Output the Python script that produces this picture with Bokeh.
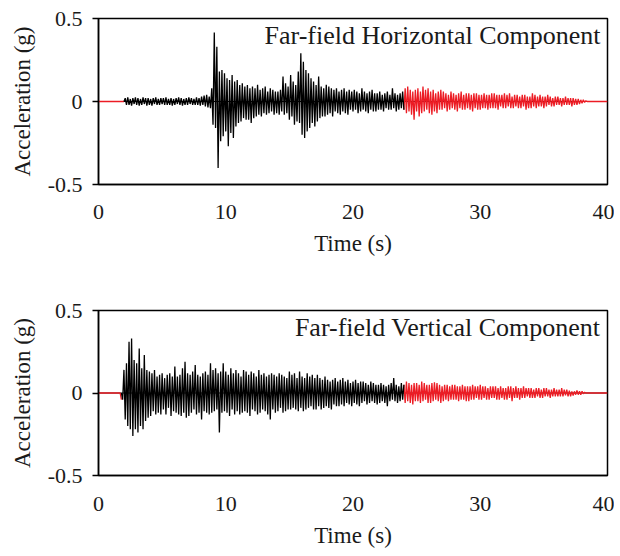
import numpy as np
from bokeh.plotting import figure
from bokeh.layouts import column
from bokeh.models import Span, Label, FixedTicker
from bokeh.embed import file_html
from bokeh.resources import INLINE

# ---------------- data ----------------
DT = 0.1  # sample step of the digitised records (s)

# Far-field horizontal component
h_pre_t = [0.0, 2.0]
h_pre_a = [0.0, 0.0]
h_black_start = 2.0
h_black = [
    0.00, 0.02, -0.02, 0.025, -0.02, 0.015, -0.025, 0.02, -0.015, 0.025,
    -0.02, 0.02, -0.025, 0.015, -0.02, 0.025, -0.015, 0.02, -0.025, 0.02,
    -0.02, 0.015, -0.025, 0.02, -0.015, 0.025, -0.02, 0.015, -0.02, 0.02,
    -0.015, 0.02, -0.02, 0.025, -0.02, 0.015, -0.02, 0.02, -0.025, 0.015,
    -0.02, 0.02, -0.015, 0.025, -0.02, 0.02, -0.025, 0.015, -0.02, 0.02,
    -0.02, 0.025, -0.015, 0.02, -0.02, 0.015, -0.02, 0.025, -0.02, 0.02,
    -0.025, 0.03, -0.02, 0.035, -0.03, 0.04, -0.035, 0.03, -0.04, 0.08,
    -0.14, 0.415, -0.16, 0.33, -0.40, 0.18, -0.24, 0.19, -0.21, 0.17,
    -0.18, 0.14, -0.27, 0.13, -0.19, 0.16, -0.22, 0.12, -0.15, 0.13,
    -0.13, 0.10, -0.12, 0.11, -0.10, 0.09, -0.11, 0.10, -0.11, 0.08,
    -0.13, 0.09, -0.10, 0.08, -0.09, 0.10, -0.08, 0.07, -0.09, 0.08,
    -0.07, 0.09, -0.08, 0.06, -0.07, 0.08, -0.06, 0.07, -0.08, 0.06,
    -0.07, 0.06, -0.08, 0.07, -0.06, 0.15, -0.08, 0.11, -0.07, 0.09,
    -0.11, 0.16, -0.09, 0.12, -0.14, 0.10, -0.12, 0.18, -0.13, 0.29,
    -0.20, 0.24, -0.22, 0.19, -0.18, 0.17, -0.16, 0.14, -0.13, 0.12,
    -0.15, 0.10, -0.12, 0.15, -0.10, 0.09, -0.09, 0.08, -0.09, 0.10,
    -0.08, 0.09, -0.07, 0.08, -0.09, 0.07, -0.06, 0.08, -0.07, 0.06,
    -0.08, 0.07, -0.06, 0.08, -0.07, 0.06, -0.08, 0.07, -0.05, 0.06,
    -0.06, 0.07, -0.05, 0.06, -0.07, 0.05, -0.06, 0.08, -0.05, 0.06,
    -0.06, 0.05, -0.07, 0.06, -0.05, 0.07, -0.06, 0.05, -0.06, 0.05,
    -0.05, 0.06, -0.05, 0.04, -0.06, 0.05, -0.04, 0.06, -0.05, 0.04,
    -0.05, 0.08, -0.04, 0.05, -0.06, 0.04, -0.05, 0.05, -0.04, 0.06,
    -0.05,
]
h_red_start = 24.0
h_red = [
    -0.05, 0.08, -0.07, 0.09, -0.06, 0.07, -0.08, 0.06, -0.11, 0.07,
    -0.06, 0.08, -0.09, 0.06, -0.07, 0.09, -0.06, 0.07, -0.05, 0.08,
    -0.07, 0.06, -0.08, 0.07, -0.06, 0.05, -0.07, 0.06, -0.05, 0.07,
    -0.05, 0.06, -0.04, 0.05, -0.06, 0.04, -0.05, 0.06, -0.04, 0.05,
    -0.05, 0.04, -0.06, 0.05, -0.04, 0.06, -0.05, 0.04, -0.05, 0.05,
    -0.04, 0.05, -0.05, 0.04, -0.06, 0.05, -0.04, 0.05, -0.05, 0.04,
    -0.05, 0.04, -0.04, 0.05, -0.04, 0.04, -0.05, 0.04, -0.04, 0.05,
    -0.04, 0.05, -0.04, 0.04, -0.05, 0.04, -0.03, 0.04, -0.04, 0.05,
    -0.04, 0.04, -0.03, 0.05, -0.04, 0.03, -0.04, 0.04, -0.03, 0.04,
    -0.04, 0.03, -0.04, 0.04, -0.03, 0.04, -0.05, 0.03, -0.04, 0.03,
    -0.04, 0.05, -0.03, 0.04, -0.04, 0.03, -0.03, 0.04, -0.03, 0.03,
    -0.04, 0.03, -0.03, 0.04, -0.02, 0.03, -0.03, 0.02, -0.03, 0.03,
    -0.02, 0.03, -0.02, 0.02, -0.03, 0.02, -0.02, 0.03, -0.02, 0.02,
    -0.02, 0.02, -0.03, 0.02, -0.02, 0.015, -0.02, 0.015, -0.015, 0.01,
    -0.01, 0.01, -0.005, 0.005, 0.0, 0.0, 0.0, 0.0, 0.0, 0.0,
    0.0, 0.0, 0.0, 0.0, 0.0, 0.0, 0.0, 0.0, 0.0, 0.0,
    0.0,
]

# Far-field vertical component
v_pre_t = [0.0, 1.7, 1.8]
v_pre_a = [0.0, 0.0, -0.04]
v_black_start = 1.8
v_black = [
    0.0, -0.04,
    0.14, -0.16, 0.18, -0.20, 0.31, -0.22, 0.33, -0.26, 0.20, -0.22,
    0.18, -0.24, 0.27, -0.20, 0.15, -0.22, 0.23, -0.17, 0.14, -0.15,
    0.13, -0.14, 0.12, -0.11, 0.14, -0.13, 0.10, -0.12, 0.11, -0.13,
    0.12, -0.10, 0.09, -0.13, 0.11, -0.09, 0.12, -0.14, 0.10, -0.11,
    0.16, -0.12, 0.10, -0.13, 0.11, -0.14, 0.15, -0.12, 0.19, -0.15,
    0.12, -0.14, 0.11, -0.12, 0.13, -0.10, 0.17, -0.13, 0.11, -0.12,
    0.10, -0.16, 0.12, -0.11, 0.13, -0.12, 0.11, -0.13, 0.18, -0.12,
    0.14, -0.11, 0.15, -0.10, 0.12, -0.24, 0.13, -0.12, 0.18, -0.11,
    0.13, -0.12, 0.11, -0.14, 0.15, -0.10, 0.12, -0.13, 0.14, -0.11,
    0.12, -0.13, 0.10, -0.12, 0.14, -0.11, 0.13, -0.12, 0.11, -0.14,
    0.13, -0.10, 0.12, -0.11, 0.10, -0.13, 0.14, -0.12, 0.11, -0.10,
    0.12, -0.11, 0.10, -0.13, 0.11, -0.16, 0.12, -0.10, 0.11, -0.12,
    0.10, -0.11, 0.12, -0.09, 0.11, -0.12, 0.10, -0.11, 0.09, -0.10,
    0.13, -0.10, 0.11, -0.09, 0.12, -0.10, 0.09, -0.11, 0.13, -0.09,
    0.10, -0.11, 0.09, -0.10, 0.12, -0.09, 0.10, -0.08, 0.11, -0.10,
    0.09, -0.10, 0.11, -0.08, 0.09, -0.10, 0.08, -0.09, 0.10, -0.08,
    0.08, -0.09, 0.07, -0.10, 0.08, -0.07, 0.09, -0.08, 0.07, -0.08,
    0.08, -0.07, 0.09, -0.08, 0.07, -0.06, 0.08, -0.07, 0.06, -0.08,
    0.07, -0.06, 0.08, -0.07, 0.06, -0.08, 0.07, -0.06, 0.07, -0.05,
    0.06, -0.07, 0.05, -0.06, 0.07, -0.05, 0.06, -0.06, 0.05, -0.07,
    0.05, -0.06, 0.06, -0.05, 0.05, -0.06, 0.04, -0.08, 0.05, -0.05,
    0.06, -0.04, 0.09, -0.05, 0.05, -0.06, 0.04, -0.05, 0.06, -0.04,
    0.05,
]
v_red_start = 24.0
v_red = [
    0.05, -0.06, 0.07, -0.05, 0.06, -0.06, 0.05, -0.07, 0.06, -0.05,
    0.06, -0.05, 0.05, -0.06, 0.07, -0.05, 0.06, -0.04, 0.05, -0.06,
    0.05, -0.06, 0.06, -0.05, 0.065, -0.04, 0.06, -0.05, 0.05, -0.06,
    0.04, -0.05, 0.05, -0.04, 0.05, -0.05, 0.04, -0.04, 0.05, -0.04,
    0.05, -0.04, 0.04, -0.05, 0.04, -0.04, 0.05, -0.04, 0.04, -0.05,
    0.04, -0.05, 0.04, -0.04, 0.05, -0.04, 0.04, -0.03, 0.04, -0.04,
    0.05, -0.04, 0.04, -0.03, 0.04, -0.04, 0.03, -0.04, 0.04, -0.03,
    0.04, -0.03, 0.04, -0.04, 0.03, -0.04, 0.04, -0.03, 0.03, -0.04,
    0.03, -0.04, 0.04, -0.03, 0.04, -0.05, 0.03, -0.03, 0.04, -0.03,
    0.03, -0.04, 0.03, -0.03, 0.04, -0.03, 0.03, -0.02, 0.03, -0.03,
    0.03, -0.03, 0.02, -0.03, 0.03, -0.02, 0.03, -0.03, 0.02, -0.03,
    0.03, -0.02, 0.03, -0.02, 0.02, -0.03, 0.02, -0.02, 0.03, -0.02,
    0.02, -0.02, 0.02, -0.02, 0.03, -0.02, 0.02, -0.015, 0.02, -0.02,
    0.015, -0.02, 0.01, -0.015, 0.01, -0.01, 0.015, -0.01, 0.01, -0.01,
    0.01, -0.005, 0.005, 0.0, 0.0, 0.0, 0.0, 0.0, 0.0, 0.0,
    0.0, 0.0, 0.0, 0.0, 0.0, 0.0, 0.0, 0.0, 0.0, 0.0,
    0.0,
]

x_ticks = [0, 10, 20, 30, 40]
y_ticks = [-0.5, 0, 0.5]
y_tick_labels = {-0.5: "-0.5", 0: "0", 0.5: "0.5"}
titles = ["Far-field Horizontal Component", "Far-field Vertical Component"]

FONT = "Liberation Serif"
RED = "#ec1c24"
TXT = "#1a1a1a"


def series_t(start, vals):
    return start + DT * np.arange(len(vals))


def make_fig(height, border_top, border_bottom, title, tick_gap, label_gap,
             pre_t, pre_a, blk_start, blk, red_start, red):
    p = figure(width=614, height=height, x_range=(0, 40), y_range=(-0.5, 0.5),
               output_backend="svg", toolbar_location=None,
               min_border_left=98, min_border_right=7,
               min_border_top=border_top, min_border_bottom=border_bottom)
    p.grid.visible = False
    p.outline_line_color = "black"
    p.outline_line_width = 1.5
    p.outline_line_alpha = 1.0
    p.background_fill_color = "white"
    p.border_fill_color = "white"

    p.add_layout(Span(location=0, dimension="width", line_color="black",
                      line_width=1, level="underlay"))
    p.line(pre_t, pre_a, line_color=RED, line_width=1.3)
    p.line(series_t(red_start, red), red, line_color=RED, line_width=1.3)
    p.line(series_t(blk_start, blk), blk, line_color="black", line_width=1.3)

    xa = p.xaxis[0]
    xa.ticker = FixedTicker(ticks=x_ticks)
    xa.axis_label = "Time (s)"
    xa.major_tick_out = 0
    xa.major_tick_in = 0
    xa.minor_tick_out = 0
    xa.minor_tick_in = 0
    xa.axis_line_color = "black"
    xa.axis_line_width = 1.5
    xa.major_label_standoff = tick_gap
    xa.axis_label_standoff = label_gap
    xa.major_label_text_font = FONT
    xa.major_label_text_font_size = "22px"
    xa.major_label_text_color = TXT
    xa.axis_label_text_font = FONT
    xa.axis_label_text_font_size = "23px"
    xa.axis_label_text_font_style = "normal"
    xa.axis_label_text_color = TXT

    ya = p.yaxis[0]
    ya.ticker = FixedTicker(ticks=y_ticks)
    ya.major_label_overrides = y_tick_labels
    ya.axis_label = "Acceleration (g)"
    ya.major_tick_out = 6
    ya.major_tick_in = 0
    ya.minor_tick_out = 0
    ya.minor_tick_in = 0
    ya.major_tick_line_color = "black"
    ya.major_tick_line_width = 1.5
    ya.axis_line_color = "black"
    ya.axis_line_width = 1.5
    ya.major_label_standoff = 10
    ya.axis_label_standoff = 10
    ya.major_label_text_font = FONT
    ya.major_label_text_font_size = "22px"
    ya.major_label_text_color = TXT
    ya.axis_label_text_font = FONT
    ya.axis_label_text_font_size = "23px"
    ya.axis_label_text_font_style = "normal"
    ya.axis_label_text_color = TXT

    p.add_layout(Label(x=40, y=0.5, x_offset=-7, y_offset=-2, text=title,
                       text_align="right", text_baseline="top",
                       text_font=FONT, text_font_size="26px",
                       text_color=TXT))
    return p


p1 = make_fig(280, 18, 96, titles[0], 20, 9, h_pre_t, h_pre_a,
              h_black_start, h_black, h_red_start, h_red)
p2 = make_fig(276, 30, 81, titles[1], 21, 9, v_pre_t, v_pre_a,
              v_black_start, v_black, v_red_start, v_red)

layout = column(p1, p2, spacing=0)
open("out.html", "w").write(file_html(layout, INLINE))
